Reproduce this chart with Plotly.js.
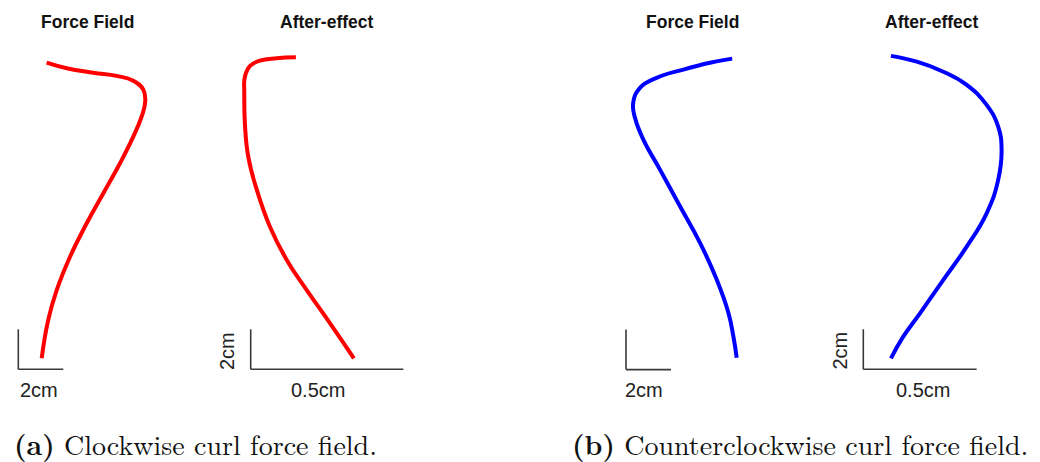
<!DOCTYPE html>
<html>
<head>
<meta charset="utf-8">
<script src="https://cdn.plot.ly/plotly-3.0.1.min.js"></script>
<style>
  html, body { margin: 0; padding: 0; background: #fff; }
  #chart { width: 1040px; height: 462px; }
</style>
</head>
<body>
<div id="chart"></div>
<script>
// Hand paths (cm), measured from the corner of each panel's scale bar.
// (a) clockwise curl field
const cwFieldX = [1.26, 2.15, 3.33, 4.37, 5.11, 5.56, 5.64, 5.48, 5.11, 4.52, 3.78, 3.04, 2.30, 1.71, 1.33, 1.04];
const cwFieldY = [15.33, 15.05, 14.83, 14.67, 14.43, 13.97, 13.38, 12.63, 11.63, 10.30, 8.80, 7.30, 5.63, 3.97, 2.47, 0.55];
const cwAfterX = [0.148, 0.085, 0.030, -0.002, -0.019, -0.021, -0.019, -0.008, 0.020, 0.063, 0.118, 0.183, 0.260, 0.338];
const cwAfterY = [15.60, 15.55, 15.43, 15.17, 14.63, 13.80, 12.30, 10.63, 8.97, 7.13, 5.47, 3.97, 2.30, 0.55];
// (b) counterclockwise curl field
const ccwFieldX = [4.72, 3.73, 2.55, 1.36, 0.62, 0.32, 0.40, 0.77, 1.51, 2.40, 3.29, 4.03, 4.55, 4.77, 4.92];
const ccwFieldY = [15.55, 15.34, 15.00, 14.59, 14.09, 13.34, 12.59, 11.50, 10.00, 8.17, 6.34, 4.50, 2.84, 1.67, 0.59];
const ccwAfterX = [0.122, 0.236, 0.353, 0.456, 0.544, 0.595, 0.610, 0.595, 0.544, 0.456, 0.353, 0.250, 0.176, 0.122];
const ccwAfterY = [15.67, 15.38, 14.88, 14.22, 13.22, 12.13, 10.97, 9.47, 7.80, 6.13, 4.47, 2.80, 1.63, 0.55];

// Scale bar lengths (cm) and their labels
const fieldBar = [2, 2];
const afterBar = [0.5, 2];
const fieldBarLabel = "2cm";
const afterBarLabels = ["0.5cm", "2cm"];

const panelTitles = ["Force Field", "After-effect", "Force Field", "After-effect"];
const captionTags = ["(a)", "(b)"];
const captionTexts = ["Clockwise curl force field.", "Counterclockwise curl force field."];

const W = 1040, H = 462;

// Each panel gets its own full-page axis pair; the scale bar corner sits at
// (ox, oy) pixels, with sx / sy pixels per cm.
const panels = [
  { x: cwFieldX,  y: cwFieldY,  color: "#ff0000", ox: 18.3,  oy: 369.3, sx: 22.5,  sy: 20, bar: fieldBar },
  { x: cwAfterX,  y: cwAfterY,  color: "#ff0000", ox: 250.7, oy: 369.3, sx: 305.3, sy: 20, bar: afterBar },
  { x: ccwFieldX, y: ccwFieldY, color: "#0000ff", ox: 626.0, oy: 369.6, sx: 22.5,  sy: 20, bar: fieldBar },
  { x: ccwAfterX, y: ccwAfterY, color: "#0000ff", ox: 863.3, oy: 369.3, sx: 226.7, sy: 20, bar: afterBar }
];

const traces = [];
const shapes = [];
const layout = {
  width: W, height: H,
  margin: { l: 0, r: 0, t: 0, b: 0 },
  paper_bgcolor: "#ffffff",
  plot_bgcolor: "rgba(0,0,0,0)",
  showlegend: false,
  annotations: []
};

panels.forEach((p, i) => {
  const n = i === 0 ? "" : String(i + 1);
  const xa = "xaxis" + n, ya = "yaxis" + n;
  layout[xa] = {
    domain: [0, 1], range: [-p.ox / p.sx, (W - p.ox) / p.sx],
    visible: false, fixedrange: true, anchor: "y" + n
  };
  layout[ya] = {
    domain: [0, 1], range: [(p.oy - H) / p.sy, p.oy / p.sy],
    visible: false, fixedrange: true, anchor: "x" + n
  };
  traces.push({
    type: "scatter", mode: "lines",
    x: p.x, y: p.y,
    xaxis: "x" + n, yaxis: "y" + n,
    line: { color: p.color, width: 4, shape: "spline", smoothing: 1.3 },
    hoverinfo: "skip"
  });
  const barLine = { color: "#3a3a3a", width: 1.6 };
  shapes.push({ type: "line", xref: "x" + n, yref: "y" + n, x0: 0, y0: 0, x1: p.bar[0], y1: 0, line: barLine });
  shapes.push({ type: "line", xref: "x" + n, yref: "y" + n, x0: 0, y0: 0, x1: 0, y1: p.bar[1], line: barLine });
});
layout.shapes = shapes;

const px = v => v / W;
const py = v => 1 - v / H;
const ann = (x, y, text, font, extra) => Object.assign({
  xref: "paper", yref: "paper", x: px(x), y: py(y), text: text,
  showarrow: false, xanchor: "center", yanchor: "middle", borderpad: 0, font: font
}, extra || {});

const titleFont = { family: "Liberation Sans, Arial, sans-serif", size: 17.5, color: "#111111", weight: "bold" };
const barFont = { family: "Liberation Sans, Arial, sans-serif", size: 20, color: "#222222" };
const capFont = { family: "Latin Modern Roman, CMU Serif, Liberation Serif, DejaVu Serif, serif", size: 28, color: "#111111" };

// Panel titles
[87.5, 327, 692, 932].forEach((cx, i) => layout.annotations.push(ann(cx, 22.5, "<b>" + panelTitles[i] + "</b>", titleFont)));

// Scale bar labels
layout.annotations.push(ann(38.5, 390, fieldBarLabel, barFont));
layout.annotations.push(ann(318, 390, afterBarLabels[0], barFont));
layout.annotations.push(ann(226.5, 351.5, afterBarLabels[1], barFont, { textangle: -90 }));
layout.annotations.push(ann(643.5, 390, fieldBarLabel, barFont));
layout.annotations.push(ann(923, 390, afterBarLabels[0], barFont));
layout.annotations.push(ann(839.5, 351, afterBarLabels[1], barFont, { textangle: -90 }));

// Sub-figure captions
layout.annotations.push(ann(195, 443, "<b>" + captionTags[0] + "</b> " + captionTexts[0], capFont));
layout.annotations.push(ann(800, 443, "<b>" + captionTags[1] + "</b> " + captionTexts[1], capFont));

Plotly.newPlot("chart", traces, layout, { displayModeBar: false, staticPlot: true });
</script>
</body>
</html>
